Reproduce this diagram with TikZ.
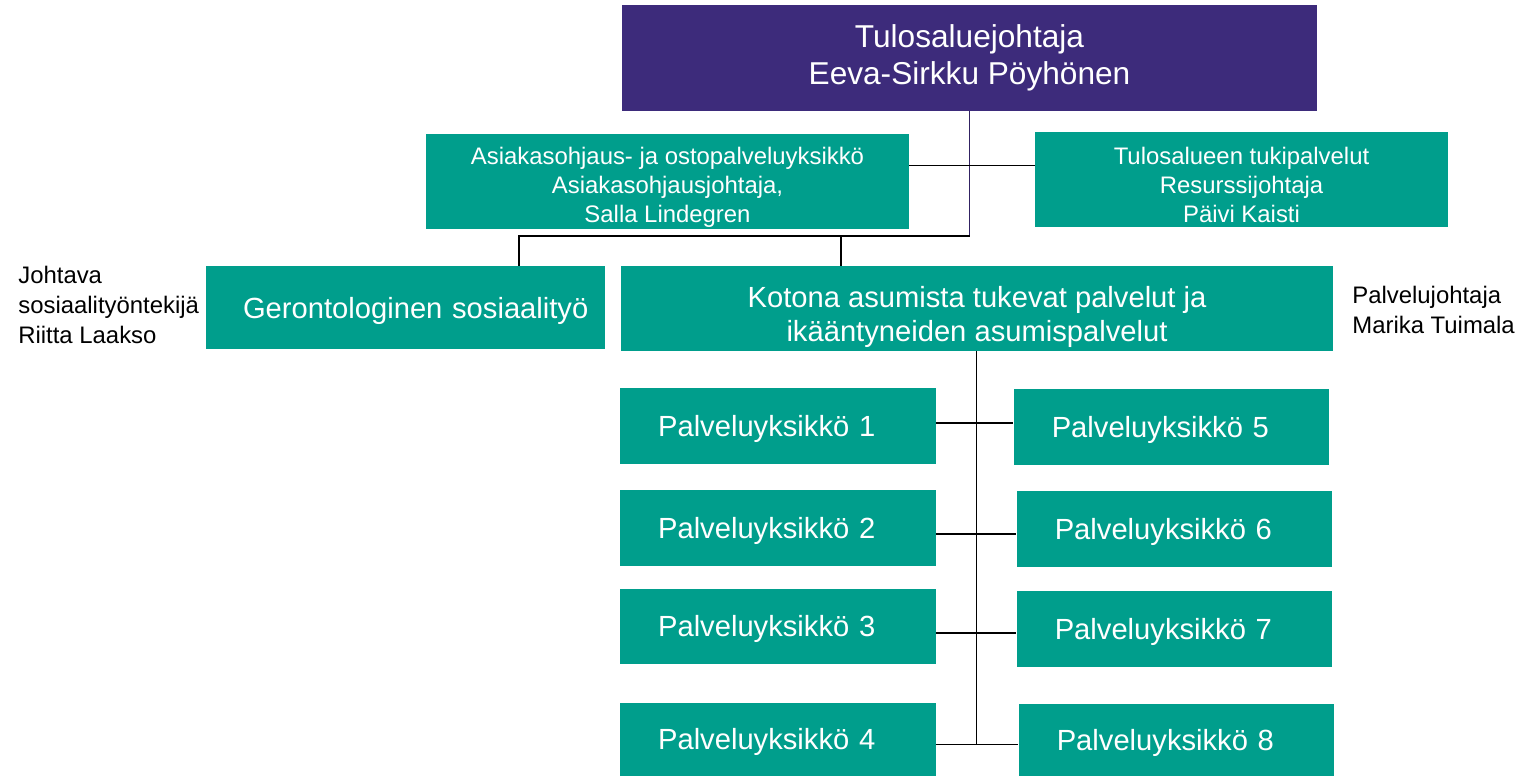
\documentclass[tikz,border=0pt]{standalone}
\usepackage{fontspec}
\setmainfont{Liberation Sans}
\definecolor{tealbox}{RGB}{0,158,140}
\definecolor{headbox}{RGB}{61,43,123}
\tikzset{
  orgbox/.style={fill=tealbox,text=white,inner sep=0pt,align=center},
  unitbox/.style={orgbox,align=left,inner xsep=0.76cm,text width=4.79cm,minimum height=1.51cm,
    text height=15.4pt,text depth=3.5pt,font=\fontsize{16.6}{19.6}\selectfont},
  sidetext/.style={align=left,anchor=west,inner sep=0pt,font=\fontsize{13.6}{17}\selectfont},
  conn/.style={black,line width=0.8pt},
  headline/.style={headbox!80!black,line width=0.8pt}
}
\begin{document}
\begin{tikzpicture}[x=0.02cm,y=-0.02cm]
\useasboundingbox (0,0) rectangle (1520,776);
% johto
\node[orgbox,fill=headbox,minimum width=13.9cm,minimum height=2.11cm,
  font=\fontsize{18}{21.4}\selectfont] (johtaja) at (969.5,58) {Tulosaluejohtaja\\Eeva-Sirkku Pöyhönen};
\node[orgbox,minimum width=9.66cm,minimum height=1.9cm,
  font=\fontsize{13.6}{16.5}\selectfont] (asiakas) at (667.5,181.5) {\rule{0pt}{16pt}Asiakasohjaus- ja ostopalveluyksikkö\\Asiakasohjausjohtaja,\\Salla Lindegren};
\node[orgbox,minimum width=8.26cm,minimum height=1.9cm,
  font=\fontsize{13.6}{16.5}\selectfont] (tuki) at (1241.5,179.5) {\rule{0pt}{16pt}Tulosalueen tukipalvelut\\Resurssijohtaja\\Päivi Kaisti};
% palvelualueet
\node[unitbox,inner xsep=0.74cm,text width=6.5cm,minimum height=1.66cm,text height=16.5pt]
  (geron) at (405.5,307.5) {\mbox{Gerontologinen sosiaalityö}};
\node[orgbox,minimum width=14.24cm,minimum height=1.69cm,
  font=\fontsize{16.6}{19.6}\selectfont] (kotona) at (977,308.3) {\rule{0pt}{22pt}Kotona asumista tukevat palvelut ja\\ikääntyneiden asumispalvelut};
\node[sidetext] (riitta) at (18,305) {Johtava\\sosiaalityöntekijä\\Riitta Laakso};
\node[sidetext] (marika) at (1352,310) {Palvelujohtaja\\Marika Tuimala};
% palveluyksikot
\node[unitbox] (py1) at (777.8,425.9) {Palveluyksikkö 1};
\node[unitbox] (py2) at (777.8,527.9) {Palveluyksikkö 2};
\node[unitbox] (py3) at (777.8,626.5) {Palveluyksikkö 3};
\node[unitbox,minimum height=1.46cm] (py4) at (777.8,739.5) {Palveluyksikkö 4};
\node[unitbox] (py5) at (1171.5,426.9) {Palveluyksikkö 5};
\node[unitbox] (py6) at (1174.5,529) {Palveluyksikkö 6};
\node[unitbox] (py7) at (1174.5,629) {Palveluyksikkö 7};
\node[unitbox,minimum height=1.44cm] (py8) at (1176.5,740) {Palveluyksikkö 8};
% viivat
\coordinate (jako) at (969.5,236);
\coordinate (ger) at (519,236);
\coordinate (kot) at (841,236);
\coordinate (sivu) at (969.5,165.7);
\draw[headline] (johtaja.south) -- (jako);
\draw[conn] (sivu -| asiakas.east) -- (sivu -| tuki.west);
\draw[conn] (jako) -- (ger) -- (ger |- geron.north);
\draw[conn] (kot) -- (kot |- kotona.north);
\coordinate (r1) at (976.7,423);
\coordinate (r2) at (976.7,534);
\coordinate (r3) at (976.7,633);
\coordinate (r4) at (976.7,744.7);
\draw[conn] (r1 |- kotona.south) -- (r4);
\draw[conn] (r1 -| py1.east) -- (r1 -| py5.west);
\draw[conn] (r2 -| py2.east) -- (r2 -| py6.west);
\draw[conn] (r3 -| py3.east) -- (r3 -| py7.west);
\draw[conn] (r4 -| py4.east) -- (r4 -| py8.west);
\end{tikzpicture}
\end{document}
